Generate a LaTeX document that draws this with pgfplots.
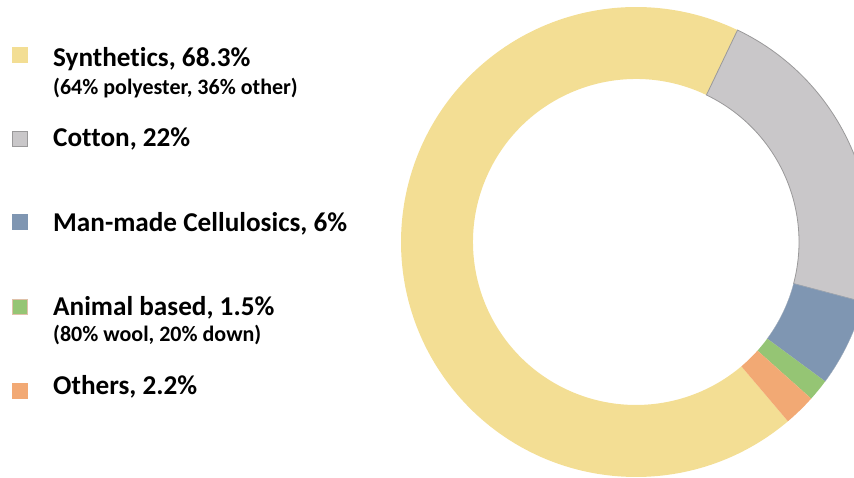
\documentclass[border=0pt]{standalone}
\usepackage{pgfplots}
\pgfplotsset{compat=1.18}
\usepackage{pgfplotstable}
\usepackage{fontspec}
\setmainfont[Ligatures=NoCommon]{Carlito}
\definecolor{cSyn}{HTML}{F3DE94}
\definecolor{cCot}{HTML}{C9C7C9}
\definecolor{cCotE}{HTML}{9A999A}
\definecolor{cMMC}{HTML}{7F96B2}
\definecolor{cAni}{HTML}{95C574}
\definecolor{cOth}{HTML}{F2A974}
\pgfplotstableread{
idx name value
0 Cotton 22
1 MMC 6
2 Animal 1.5
3 Others 2.2
4 Synthetics 68.3
}\fibres
\def\cx{636}
\def\cy{236}
\def\ro{235}
\def\ri{163}
\newcommand\slice[3][]{%
  \path[fill=#3,#1]
   ({\cx+\ro*sin(\csname sa#2\endcsname)},{\cy+\ro*cos(\csname sa#2\endcsname)})
   arc[start angle={90-\csname sa#2\endcsname}, end angle={90-\csname ea#2\endcsname}, radius=\ro pt]
   -- ({\cx+\ri*sin(\csname ea#2\endcsname)},{\cy+\ri*cos(\csname ea#2\endcsname)})
   arc[start angle={90-\csname ea#2\endcsname}, end angle={90-\csname sa#2\endcsname}, radius=\ri pt]
   -- cycle;}
\begin{document}
\begin{tikzpicture}
\xdef\curang{25.6}
\foreach \i in {0,...,4}{%
  \pgfplotstablegetelem{\i}{value}\of\fibres
  \pgfmathsetmacro\endang{\curang+3.6*\pgfplotsretval}%
  \expandafter\xdef\csname sa\i\endcsname{\curang}%
  \expandafter\xdef\csname ea\i\endcsname{\endang}%
  \xdef\curang{\endang}%
}
\begin{axis}[
  scale only axis, width=854pt, height=478pt,
  xmin=0, xmax=854, ymin=0, ymax=478,
  hide axis, clip=true,
]
\path (0,0) rectangle (854,478);
\slice{4}{cSyn}
\slice[draw=cCotE, line width=0.8pt]{0}{cCot}
\slice[draw=cMMC!80!black!60, line width=0.3pt]{1}{cMMC}
\slice{2}{cAni}
\slice{3}{cOth}
% legend markers
\fill[cSyn] (12,415) rectangle (28,431);
\draw[fill=cCot, draw=cCotE, line width=0.6pt] (12.5,332) rectangle (27.5,347);
\fill[cMMC] (12,248) rectangle (28,264);
\draw[fill=cAni, draw=pink!70!cAni, line width=0.5pt] (12.5,163.5) rectangle (27.5,178.5);
\fill[cOth] (12,79) rectangle (28,95);
\begin{scope}[every node/.style={anchor=base west, inner sep=0pt}]
\node[font=\fontsize{27.2}{30}\selectfont\bfseries] at (53,411) {Synthetics, 68.3\%};
\node[font=\fontsize{22}{24}\selectfont\bfseries] at (53,383) {(64\% polyester, 36\% other)};
\node[font=\fontsize{27.2}{30}\selectfont\bfseries] at (53,331) {Cotton, 22\%};
\node[font=\fontsize{27.2}{30}\selectfont\bfseries] at (53,246) {Man-made Cellulosics, 6\%};
\node[font=\fontsize{27.2}{30}\selectfont\bfseries] at (53,162) {Animal based, 1.5\%};
\node[font=\fontsize{22}{24}\selectfont\bfseries] at (53,136) {(80\% wool, 20\% down)};
\node[font=\fontsize{27.2}{30}\selectfont\bfseries] at (53,83) {Others, 2.2\%};
\end{scope}
\end{axis}
\end{tikzpicture}
\end{document}
